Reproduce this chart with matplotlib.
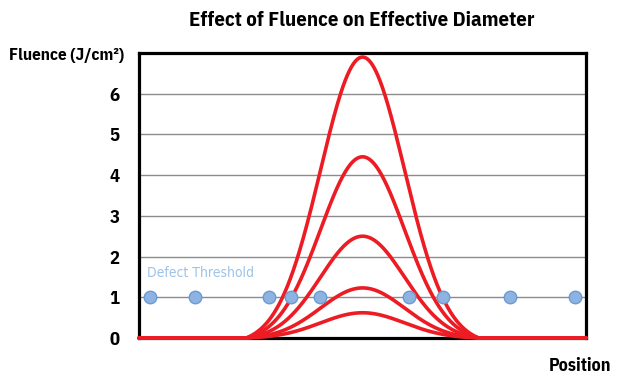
import numpy as np
import matplotlib
matplotlib.use("Agg")
import matplotlib.pyplot as plt
from matplotlib import font_manager

# peak fluence of each pulse (J/cm2)
peaks = [6.9, 4.45, 2.5, 1.23, 0.62]
center = 50.0
sigma = 9.4
halfwidth = 26.0
# defect positions, all at threshold fluence 1
defect_x = [2.5, 12.5, 29, 34, 40.5, 60.5, 68, 83, 97.5]
defect_y = [1, 1, 1, 1, 1, 1, 1, 1, 1]
yticks = [0, 1, 2, 3, 4, 5, 6]

# look for a narrow font file (condensed look of the original)
bold_file = None
reg_file = None
for f in font_manager.fontManager.ttflist:
    fn = f.fname
    if "SansCondensed-Bold." in fn or "SansNarrow-Bold." in fn:
        bold_file = fn
    if "SansCondensed." in fn or "SansNarrow-Regular." in fn:
        reg_file = fn

def fp(size, bold=True):
    fname = bold_file if bold else reg_file
    if fname:
        return font_manager.FontProperties(fname=fname, size=size)
    return font_manager.FontProperties(family="DejaVu Sans", size=size * 0.85,
                                       weight="bold" if bold else "normal")

fig = plt.figure(figsize=(6.21, 3.81), dpi=100)
ax = fig.add_axes([0.2238, 0.1129, 0.72, 0.748])

x = np.linspace(0, 100, 1001)
d = x - center
base = np.exp(-d**2 / (2 * sigma**2))
cut = np.exp(-halfwidth**2 / (2 * sigma**2))
shape = np.clip((base - cut) / (1 - cut), 0, None)
shape[np.abs(d) > halfwidth] = 0

for p in peaks:
    ax.plot(x, p * shape, color="#ed1c24", lw=2.6, solid_capstyle="round", zorder=3, clip_on=False)

ax.plot(defect_x, defect_y, "o", ms=9, mfc="#8db3e2", mec="#6b9bd2", mew=1, zorder=4)
ax.text(1.8, 1.42, "Defect Threshold", color="#9dc3e6", fontproperties=fp(10, bold=False),
        va="bottom")

ax.set_xlim(0, 100)
ax.set_ylim(0, 7)
ax.set_yticks(yticks)
ax.set_yticklabels([str(t) for t in yticks])
for lab in ax.get_yticklabels():
    lab.set_fontproperties(fp(13.5))
ax.set_xticks([])
ax.tick_params(axis="y", length=0, pad=14)
ax.grid(axis="y", color="#8c8c8c", lw=1)
ax.set_axisbelow(True)
for s in ax.spines.values():
    s.set_linewidth(2.3)
    s.set_color("black")

fig.text(0.583, 0.945, "Effect of Fluence on Effective Diameter", ha="center", va="center",
         fontproperties=fp(15))
fig.text(0.2, 0.855, "Fluence (J/cm²)", ha="right", va="center", fontproperties=fp(12.4))
fig.text(0.985, 0.04, "Position", ha="right", va="center", fontproperties=fp(13))

fig.savefig("out.png", dpi=100)
